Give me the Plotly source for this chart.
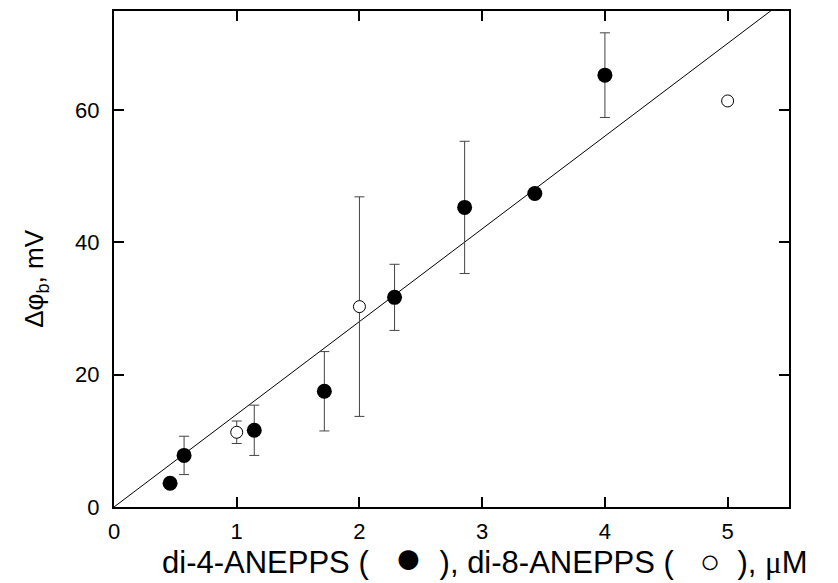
import plotly.graph_objects as go

# di-4-ANEPPS (filled)
di4_conc = [0.457, 0.571, 1.143, 1.714, 2.286, 2.857, 3.429, 4.0]
di4_dphi = [3.6, 7.8, 11.6, 17.5, 31.7, 45.3, 47.4, 65.3]
di4_err = [0.0, 2.9, 3.8, 6.0, 5.0, 10.0, 0.0, 6.4]

# di-8-ANEPPS (open)
di8_conc = [1.0, 2.0, 5.0]
di8_dphi = [11.3, 30.3, 61.4]
di8_err = [1.7, 16.6, 0.0]

# linear fit through origin
fit_slope = 14.02
fit_x = [0.0, 5.5]
fit_y = [fit_slope * v for v in fit_x]

x_ticks = [0, 1, 2, 3, 4, 5]
y_ticks = [0, 20, 40, 60]

x_title = ("di-4-ANEPPS (   <span style='font-size:46px'>●</span>  ), "
           "di-8-ANEPPS (   <span style='font-size:34px'>○</span>  ), "
           "<span style='font-family:Liberation Serif'>μ</span>M")
y_title = "Δφ<sub>b</sub>, mV"

fig = go.Figure()
fig.add_trace(go.Scatter(x=fit_x, y=fit_y, mode="lines",
                         line=dict(color="black", width=1), showlegend=False))
fig.add_trace(go.Scatter(
    x=di4_conc, y=di4_dphi, mode="markers",
    marker=dict(color="black", size=15, line=dict(width=0)),
    error_y=dict(type="data", array=di4_err, visible=True, color="#444444",
                 thickness=1, width=5),
    showlegend=False))
fig.add_trace(go.Scatter(
    x=di8_conc, y=di8_dphi, mode="markers",
    marker=dict(color="white", size=12, line=dict(color="black", width=1)),
    error_y=dict(type="data", array=di8_err, visible=True, color="#444444",
                 thickness=1, width=5),
    showlegend=False))

font_family = "Liberation Sans, Arial, sans-serif"
axis_common = dict(ticks="inside", ticklen=10, tickwidth=1.5, tickcolor="black",
                   showline=True, linewidth=2, linecolor="black", mirror="ticks",
                   showgrid=False, zeroline=False, tickfont=dict(size=22))
fig.update_layout(
    width=830, height=575,
    margin=dict(l=106, r=49, t=1, b=76),
    paper_bgcolor="white", plot_bgcolor="white",
    font=dict(family=font_family, size=22, color="black"),
    xaxis=dict(range=[0, 5.5], tickvals=x_ticks, ticklabelstandoff=4, **axis_common),
    yaxis=dict(range=[0, 75], tickvals=y_ticks, ticklabelstandoff=8, **axis_common),
    annotations=[
        dict(text=x_title, xref="paper", yref="paper", x=0.549, y=-0.100,
             xanchor="center", yanchor="middle", showarrow=False,
             font=dict(size=31)),
        dict(text=y_title, xref="paper", yref="paper", x=-0.1156, y=0.46,
             xanchor="center", yanchor="middle", showarrow=False, textangle=-90,
             font=dict(size=26)),
    ],
)
fig.write_html("out.html")
